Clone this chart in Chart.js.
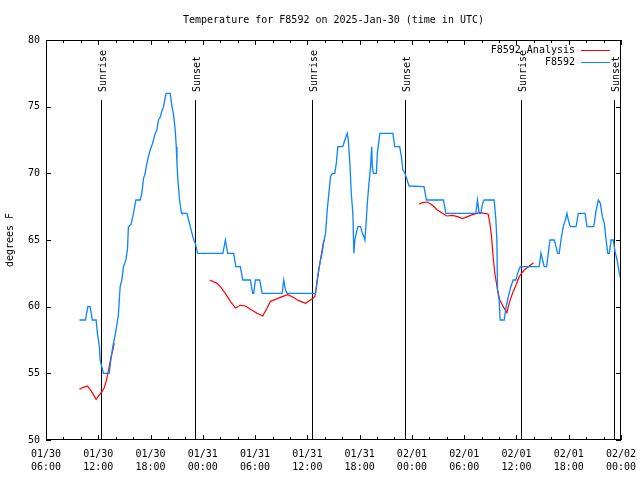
<!DOCTYPE html>
<html>
<head>
<meta charset="utf-8">
<title>Temperature for F8592</title>
<script src="https://cdn.jsdelivr.net/npm/chart.js@4/dist/chart.umd.min.js"></script>
<style>
  html, body { margin: 0; padding: 0; background: #fff; }
  canvas { display: block; }
</style>
</head>
<body>
<canvas id="tempChart" width="640" height="480"></canvas>
<script>
// x values are hours since 2025-01-30 00:00 UTC
const xTicks = [6, 12, 18, 24, 30, 36, 42, 48, 54, 60, 66, 72];
const xTickLabels = [
    ['01/30', '06:00'], ['01/30', '12:00'], ['01/30', '18:00'],
    ['01/31', '00:00'], ['01/31', '06:00'], ['01/31', '12:00'], ['01/31', '18:00'],
    ['02/01', '00:00'], ['02/01', '06:00'], ['02/01', '12:00'], ['02/01', '18:00'],
    ['02/02', '00:00']
];

// F8592 station observations
const obsHours = [
    9.83, 10.52, 10.80, 11.06, 11.32, 11.75, 11.90, 12.13, 12.21, 12.40, 12.59, 13.25,
    13.44, 13.67, 13.82, 14.05, 14.31, 14.51, 14.71, 14.89, 15.17, 15.35, 15.46, 15.78,
    16.04, 16.32, 16.81, 17.00, 17.19, 17.38, 17.58, 17.76, 17.96, 18.16, 18.34, 18.54,
    18.73, 18.91, 19.11, 19.31, 19.49, 19.69, 19.80, 20.26, 20.46, 20.64, 20.84, 20.95,
    21.03, 21.15, 21.33, 21.53, 21.61, 22.18, 22.37, 22.56, 22.76, 22.94, 23.14, 23.40,
    26.30, 26.59, 26.85, 27.54, 27.79, 28.31, 28.58, 29.46, 29.72, 29.84, 30.04, 30.53,
    30.81, 33.11, 33.29, 33.49, 33.68, 36.94, 37.13, 37.31, 37.51, 37.71, 37.89, 38.09,
    38.28, 38.47, 38.66, 38.86, 39.15, 39.32, 39.50, 40.07, 40.30, 40.58, 40.70, 40.88,
    41.04, 41.22, 41.34, 41.45, 41.61, 41.80, 42.11, 42.31, 42.49, 42.60, 42.72, 42.88,
    43.07, 43.26, 43.38, 43.46, 43.57, 43.92, 44.03, 44.22, 44.33, 45.82, 46.02, 46.60,
    46.79, 46.97, 47.20, 47.40, 47.67, 49.39, 49.67, 51.62, 51.89, 55.34, 55.53, 55.72,
    55.91, 56.11, 56.29, 57.44, 57.64, 57.75, 57.83, 58.01, 58.13, 58.59, 58.79, 58.98,
    59.16, 59.36, 59.62, 59.94, 60.13, 60.43, 62.61, 62.81, 63.00, 63.19, 63.47, 63.65,
    63.85, 64.34, 64.54, 64.73, 64.91, 65.11, 65.37, 65.57, 65.80, 65.95, 66.18, 66.84,
    67.10, 67.87, 68.10, 68.87, 69.14, 69.40, 69.63, 69.86, 70.09, 70.29, 70.48, 70.66,
    70.86, 71.12, 71.32, 71.55, 71.81, 72.00
];
const obsTemps = [
    59, 59, 60, 60, 59, 59, 58, 57, 56, 55.5, 55, 55,
    56, 57, 57.5, 58.3, 59.4, 61.5, 62, 63, 63.5, 64.3, 66, 66.2,
    67, 68, 68, 68.5, 69.6, 70, 70.75, 71.25, 71.75, 72.1, 72.5, 73,
    73.25, 74, 74.2, 74.7, 75, 75.7, 76, 76, 75, 74.4, 73.2, 72,
    70.75, 69.4, 68, 67.1, 67, 67, 66.5, 66, 65.5, 65.05, 64.75, 64,
    64, 65, 64, 64, 63, 63, 62, 62, 61, 61, 62, 62,
    61, 61, 62, 61.25, 61, 61, 62, 62.75, 63.5, 64.1, 64.9, 65.5,
    67.25, 68.5, 69.75, 70, 70, 70.75, 72, 72, 72.5, 73, 72.5, 70.75,
    68.5, 67, 64, 65, 65.5, 66, 66, 65.5, 65.25, 65, 66, 67.75,
    69.25, 70.5, 72, 70.5, 70, 70, 71.5, 72.5, 73, 73, 72, 72,
    71.25, 70.25, 70, 69.6, 69.05, 69, 68, 68, 67, 67, 68, 67,
    67, 67.75, 68, 68, 66.5, 65, 61.25, 60.5, 59, 59, 59.9, 60.5,
    61, 61.5, 62, 62, 62.5, 63, 63, 64, 63.5, 63, 63, 64,
    65, 65, 64.5, 64, 64, 65, 66, 66.4, 67, 66.5, 66, 66,
    67, 67, 66, 66, 67.2, 68, 67.75, 66.75, 66.25, 65, 64, 64,
    65, 65, 64.1, 63.5, 62.5, 62
];

// F8592 Analysis (null = gap between runs)
const anaHours = [
    9.83, 10.29, 10.75, 11.06, 11.44, 11.75, 12.01, 12.40, 12.67, 12.90, 13.10, 13.28,
    13.48, 13.67, 13.82, 19.0,
    24.78, 25.63, 26.01, 26.59, 27.16, 27.74, 28.31, 28.89, 29.46, 30.23, 30.87, 31.38,
    31.76, 32.34, 33.11, 33.75, 34.26, 35.01, 35.79, 36.36, 36.86, 37.05, 37.25, 37.43,
    37.63, 37.82, 37.97, 43.0,
    48.81, 49.21, 49.78, 50.36, 50.93, 51.51, 52.00, 52.66, 53.23, 53.81, 54.38, 54.96,
    55.72, 56.29, 56.75, 56.95, 57.14, 57.32, 57.52, 57.83, 58.09, 58.48, 58.90, 59.16,
    59.55, 59.94, 60.32, 60.89, 61.47, 61.97
];
const anaTemps = [
    53.8, 53.95, 54.05, 53.8, 53.4, 53.05, 53.3, 53.6, 53.9, 54.4, 55, 55.6,
    56.25, 56.75, 57.25, null,
    62, 61.75, 61.5, 61, 60.4, 59.9, 60.1, 60.05, 59.8, 59.5, 59.3, 59.9,
    60.4, 60.55, 60.75, 60.9, 60.75, 60.45, 60.25, 60.5, 60.75, 61.5, 62.5, 63.25,
    64, 64.75, 65.05, null,
    67.7, 67.8, 67.85, 67.6, 67.25, 67, 66.8, 66.85, 66.75, 66.6, 66.75, 66.9,
    67.05, 67, 66.95, 66.25, 65.25, 63.75, 62.5, 61.25, 60.5, 60, 59.55, 60.25,
    61, 61.6, 62.25, 62.75, 63.05, 63.3
];

const sunHours = [12.36, 23.14, 36.51, 47.21, 60.51, 71.24];
const sunLabels = ['Sunrise', 'Sunset', 'Sunrise', 'Sunset', 'Sunrise', 'Sunset'];

const FONT = "'DejaVu Sans Mono', monospace";
Chart.defaults.font.family = FONT;
Chart.defaults.font.size = 10;
Chart.defaults.color = '#000';

function toPoints(xs, ys) {
    return xs.map((x, i) => ({ x: x, y: ys[i] }));
}

// gnuplot-like frame: border, inward ticks, sunrise/sunset markers, legend
const framePlugin = {
    id: 'gnuplotFrame',
    beforeDatasetsDraw(chart) {
        const { ctx, chartArea: a, scales } = chart;
        ctx.save();
        ctx.strokeStyle = '#000';
        ctx.lineWidth = 1;
        ctx.fillStyle = '#000';
        ctx.font = '10px ' + FONT;
        sunHours.forEach((h, i) => {
            const x = Math.round(scales.x.getPixelForValue(h)) + 0.5;
            ctx.beginPath();
            ctx.moveTo(x, a.top + 60);
            ctx.lineTo(x, a.bottom);
            ctx.stroke();
            ctx.save();
            ctx.translate(x + 1.5, a.top + 52);
            ctx.rotate(-Math.PI / 2);
            ctx.textAlign = 'left';
            ctx.textBaseline = 'middle';
            ctx.fillText(sunLabels[i], 0, 0);
            ctx.restore();
        });
        ctx.restore();
    },
    afterDatasetsDraw(chart) {
        const { ctx, chartArea: a, scales } = chart;
        ctx.save();
        ctx.strokeStyle = '#000';
        ctx.lineWidth = 1;
        ctx.strokeRect(a.left + 0.5, a.top + 0.5, a.right - a.left - 1, a.bottom - a.top - 1);
        ctx.beginPath();
        for (let h = scales.x.min; h <= scales.x.max; h += 2) {
            const x = Math.round(scales.x.getPixelForValue(h)) + 0.5;
            const len = (h % 6 === 0) ? 5 : 3;
            ctx.moveTo(x, a.bottom);
            ctx.lineTo(x, a.bottom - len);
            ctx.moveTo(x, a.top);
            ctx.lineTo(x, a.top + len);
        }
        for (let v = scales.y.min; v <= scales.y.max; v += 5) {
            const y = Math.round(scales.y.getPixelForValue(v)) + 0.5;
            ctx.moveTo(a.left, y);
            ctx.lineTo(a.left + 5, y);
            ctx.moveTo(a.right, y);
            ctx.lineTo(a.right - 5, y);
        }
        ctx.stroke();
        ctx.restore();
    },
    afterDraw(chart) {
        const { ctx, chartArea: a } = chart;
        ctx.save();
        ctx.font = '10px ' + FONT;
        ctx.textAlign = 'right';
        ctx.textBaseline = 'middle';
        ctx.lineWidth = 1;
        chart.data.datasets.forEach((ds, i) => {
            const y = a.top + 10.5 + i * 12;
            ctx.fillStyle = '#000';
            ctx.fillText(ds.label, a.right - 46, y);
            ctx.strokeStyle = ds.borderColor;
            ctx.beginPath();
            ctx.moveTo(a.right - 40, y);
            ctx.lineTo(a.right - 11, y);
            ctx.stroke();
        });
        ctx.restore();
    }
};

const ctx = document.getElementById('tempChart').getContext('2d');
new Chart(ctx, {
    type: 'line',
    data: {
        datasets: [{
            label: 'F8592 Analysis',
            data: toPoints(anaHours, anaTemps),
            borderColor: '#ff0000',
            borderWidth: 1.2,
            pointRadius: 0,
            tension: 0,
            spanGaps: false,
            order: 2
        }, {
            label: 'F8592',
            data: toPoints(obsHours, obsTemps),
            borderColor: '#0a84ff',
            borderWidth: 1.3,
            pointRadius: 0,
            tension: 0,
            order: 1
        }]
    },
    options: {
        responsive: false,
        animation: false,
        layout: { padding: { left: 0, right: 19, top: 0, bottom: 0 } },
        plugins: {
            legend: { display: false },
            tooltip: { enabled: false },
            title: {
                display: true,
                fullSize: false,
                text: 'Temperature for F8592 on 2025-Jan-30 (time in UTC)',
                color: '#000',
                font: { size: 10, weight: 'normal' },
                padding: { top: 14, bottom: 14 }
            }
        },
        scales: {
            x: {
                type: 'linear',
                min: 6,
                max: 72,
                afterFit: s => { s.height = 40; s.paddingLeft = 0; s.paddingRight = 0; },
                afterBuildTicks: s => { s.ticks = xTicks.map(v => ({ value: v })); },
                grid: { display: false, drawTicks: false },
                border: { display: false },
                ticks: {
                    autoSkip: false,
                    maxRotation: 0,
                    padding: 8,
                    font: { size: 10, lineHeight: 1.3 },
                    callback: v => xTickLabels[xTicks.indexOf(v)]
                }
            },
            y: {
                min: 50,
                max: 80,
                afterFit: s => { s.width = 46; s.paddingTop = 0; s.paddingBottom = 0; },
                grid: { display: false, drawTicks: false },
                border: { display: false },
                ticks: { stepSize: 5, padding: 6 },
                title: {
                    display: true,
                    text: 'degrees F',
                    font: { size: 10 },
                    padding: { top: 4, bottom: 0 }
                }
            }
        }
    },
    plugins: [framePlugin]
});
</script>
</body>
</html>
